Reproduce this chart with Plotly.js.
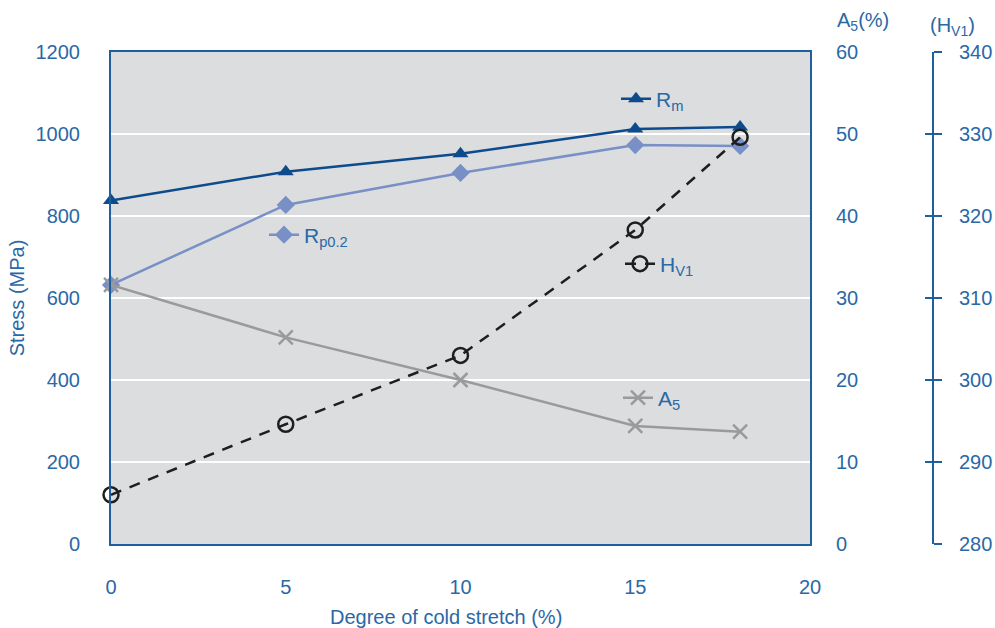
<!DOCTYPE html>
<html>
<head>
<meta charset="utf-8">
<script src="https://cdn.plot.ly/plotly-3.0.1.min.js"></script>
<style>html,body{margin:0;padding:0;background:#fff;}#chart{width:995px;height:628px;}</style>
</head>
<body>
<div id="chart"></div>
<script>
// Data
const stretch = [0, 5, 10, 15, 18];          // degree of cold stretch (%)
const rmValues = [838, 908, 952, 1012, 1017]; // Rm (MPa)
const rpValues = [632, 827, 905, 973, 971];   // Rp0.2 (MPa)
const a5Values = [31.6, 25.2, 20.0, 14.4, 13.7]; // A5 (%)
const hvValues = [286.0, 294.6, 303.0, 318.3, 329.6]; // HV1
const stressTicks = [0, 200, 400, 600, 800, 1000, 1200];
const a5Ticks = [0, 10, 20, 30, 40, 50, 60];
const hvTicks = [280, 290, 300, 310, 320, 330, 340];
const xTicks = [0, 5, 10, 15, 20];

const blue = '#1f5f9f';
const textBlue = '#2a68a6';
const font = {family: 'Liberation Sans, Arial, sans-serif', size: 20, color: textBlue};
const legFont = {family: 'Liberation Sans, Arial, sans-serif', size: 21, color: textBlue};

const traces = [
  {x: stretch, y: rmValues, name: 'R<sub>m</sub>', type: 'scatter', mode: 'lines+markers',
   line: {color: '#0d4b8c', width: 2.5}, marker: {symbol: 'triangle-up', size: 14, color: '#0d4b8c'},
   cliponaxis: false, legend: 'legend'},
  {x: stretch, y: rpValues, name: 'R<sub>p0.2</sub>', type: 'scatter', mode: 'lines+markers',
   line: {color: '#7890c6', width: 2.5}, marker: {symbol: 'diamond', size: 14, color: '#7890c6'},
   cliponaxis: false, legend: 'legend2'},
  {x: stretch, y: a5Values, name: 'A<sub>5</sub>', type: 'scatter', mode: 'lines+markers', yaxis: 'y2',
   line: {color: '#9a9a9a', width: 2.5}, marker: {symbol: 'x-thin-open', size: 14, color: '#9a9a9a', line: {width: 2.5, color: '#9a9a9a'}},
   cliponaxis: false, legend: 'legend4'},
  {x: stretch, y: hvValues, name: 'H<sub>V1</sub>', type: 'scatter', mode: 'lines+markers', yaxis: 'y3',
   line: {color: '#1e1e1e', width: 2.5, dash: '11px,9px'}, marker: {symbol: 'circle-open', size: 15, color: '#1e1e1e', line: {width: 2.5, color: '#1e1e1e'}},
   cliponaxis: false, legend: 'legend3'}
];

const L = 111, R = 810, T = 52, B = 544, W = 995, H = 628, HVX = 933;
const plotW = W - L - (W - HVX);
const xEnd = (R - L) / plotW;
function px(xp) { return (xp - L) / plotW; }
function py(yp) { return (H - (H - B) - yp) / (B - T); }

const legBase = {bgcolor: 'rgba(0,0,0,0)', font: legFont, xanchor: 'left', yanchor: 'middle', itemwidth: 30, tracegroupgap: 0, borderwidth: 0};

const layout = {
  width: W, height: H,
  margin: {l: L, r: W - HVX, t: T, b: H - B},
  paper_bgcolor: '#ffffff',
  plot_bgcolor: '#dcdddf',
  font: font,
  showlegend: true,
  legend: Object.assign({}, legBase, {x: px(616), y: py(99)}),
  legend2: Object.assign({}, legBase, {x: px(264), y: py(235)}),
  legend3: Object.assign({}, legBase, {x: px(620), y: py(264)}),
  legend4: Object.assign({}, legBase, {x: px(618), y: py(398)}),
  xaxis: {domain: [0, xEnd], range: [0, 20], tickvals: xTicks, ticktext: xTicks.map(String),
    showgrid: false, zeroline: false, showline: true, linecolor: blue, linewidth: 2, mirror: true,
    ticks: 'outside', ticklen: 0, tickcolor: 'rgba(0,0,0,0)', ticklabelstandoff: 24, tickfont: font},
  yaxis: {range: [0, 1200], tickvals: stressTicks, ticktext: stressTicks.map(String),
    showgrid: true, gridcolor: '#ffffff', gridwidth: 2.5, zeroline: false,
    showline: true, linecolor: blue, linewidth: 2, mirror: true,
    ticks: '', ticklabelstandoff: 25, tickfont: font,
    title: {text: 'Stress (MPa)', font: font, standoff: 6}},
  yaxis2: {range: [0, 60], overlaying: 'y', side: 'right', anchor: 'x', tickvals: a5Ticks, ticktext: a5Ticks.map(String),
    showgrid: false, zeroline: false, showline: false, ticks: '', ticklabelstandoff: 25, tickfont: font},
  yaxis3: {range: [280, 340], overlaying: 'y', side: 'right', anchor: 'free', position: 1,
    tickvals: hvTicks, ticktext: hvTicks.map(String),
    showgrid: false, zeroline: false, showline: true, linecolor: blue, linewidth: 2,
    ticks: 'outside', ticklen: 8, tickwidth: 2, tickcolor: blue, ticklabelstandoff: 13, tickfont: font},
  yaxis4: {range: [280, 340], overlaying: 'y', side: 'right', anchor: 'free', position: 1,
    tickvals: hvTicks, showticklabels: false,
    showgrid: false, zeroline: false, showline: false,
    ticks: 'inside', ticklen: 8, tickwidth: 2, tickcolor: blue},
  annotations: [
    {text: 'Degree of cold stretch (%)', xref: 'paper', yref: 'paper', x: px(446), y: py(617), xanchor: 'center', yanchor: 'middle', showarrow: false, font: font},
    {text: 'A<sub>5</sub>(%)', xref: 'paper', yref: 'paper', x: px(835), y: py(21), xanchor: 'left', yanchor: 'middle', showarrow: false, font: font},
    {text: '(H<sub>V1</sub>)', xref: 'paper', yref: 'paper', x: px(928), y: py(26), xanchor: 'left', yanchor: 'middle', showarrow: false, font: font}
  ]
};

// dummy trace to activate yaxis4 (no visible marks)
traces.push({x: [], y: [], yaxis: 'y4', showlegend: false, hoverinfo: 'skip', type: 'scatter'});

Plotly.newPlot('chart', traces, layout, {displayModeBar: false, staticPlot: true});
</script>
</body>
</html>
